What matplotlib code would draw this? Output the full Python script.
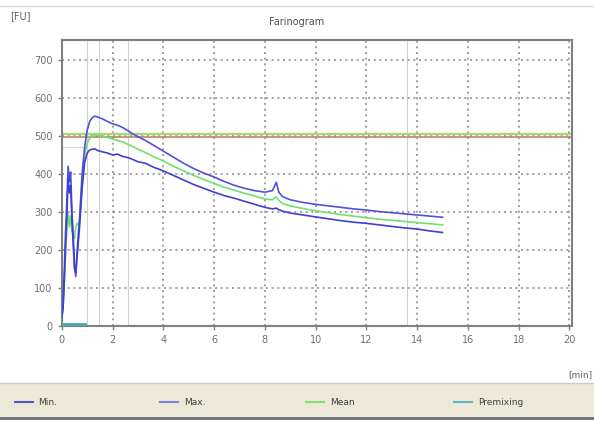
import matplotlib.pyplot as plt
from matplotlib.patches import Rectangle
from matplotlib.lines import Line2D

# time axis [min] and curves [FU]
t_start = [0.0, 0.05, 0.1, 0.15, 0.2, 0.25, 0.3, 0.35, 0.4, 0.45, 0.5, 0.55,
           0.6, 0.65, 0.7, 0.8, 0.9, 1.0, 1.1, 1.2, 1.3, 1.4]
max_start = [30, 60, 150, 250, 330, 420, 380, 405, 300, 240, 160, 130,
             190, 240, 280, 400, 470, 515, 538, 548, 552, 550]
min_start = [20, 45, 120, 210, 290, 390, 350, 370, 280, 215, 150, 140,
             180, 220, 260, 360, 430, 455, 463, 465, 466, 462]
mean_start = [25, 50, 110, 200, 250, 300, 260, 290, 250, 240, 230, 260,
              270, 265, 280, 380, 450, 480, 494, 500, 503, 502]

t_tail = [1.6, 1.8, 2.0, 2.2, 2.4, 2.6, 2.8, 3.0, 3.3, 3.6, 4.0, 4.4, 4.8,
          5.2, 5.6, 6.0, 6.4, 6.8, 7.2, 7.6, 8.0, 8.3, 8.45, 8.55, 8.7,
          9.0, 9.5, 10.0, 10.5, 11.0, 11.5, 12.0, 12.5, 13.0, 13.5, 14.0,
          14.5, 15.0]
max_tail = [545, 538, 532, 528, 522, 514, 505, 498, 488, 476, 460, 444, 428,
            414, 402, 392, 380, 370, 362, 356, 352, 356, 378, 352, 340,
            332, 325, 320, 316, 312, 308, 305, 301, 298, 295, 292,
            289, 286]
min_tail = [458, 455, 450, 452, 446, 443, 438, 432, 428, 418, 408, 396, 384,
            372, 362, 352, 343, 336, 328, 320, 312, 308, 310, 306, 302,
            297, 292, 287, 282, 277, 273, 270, 266, 262, 258, 255,
            250, 246]
mean_tail = [500, 496, 492, 488, 484, 478, 472, 465, 456, 446, 434, 420, 408,
             396, 385, 375, 365, 357, 349, 342, 334, 332, 340, 330, 322,
             316, 309, 303, 298, 293, 289, 285, 281, 278, 275, 272,
             269, 266]

t = t_start + t_tail
max_fu = max_start + max_tail
min_fu = min_start + min_tail
mean_fu = mean_start + mean_tail

premix_t = [0.0, 0.9]
premix_fu = [5, 5]

x_ticks = [0, 2, 4, 6, 8, 10, 12, 14, 16, 18, 20]
y_ticks = [0, 100, 200, 300, 400, 500, 600, 700]
marker_t = [1.0, 1.45, 2.6, 13.6]

fig = plt.figure(figsize=(5.94, 4.21), dpi=100)
fig.patch.set_facecolor("white")

# window decorations: thin top line, beige legend band at the bottom
fig.add_artist(Line2D([0.0, 1.0], [0.985, 0.985], color="#d8d8d8", lw=1))
fig.add_artist(Rectangle((0, 0.008), 1, 0.082, facecolor="#ece9d8",
                         edgecolor="none", transform=fig.transFigure))
fig.add_artist(Line2D([0.0, 1.0], [0.09, 0.09], color="#d0ccbc", lw=1))
fig.add_artist(Line2D([0.0, 1.0], [0.006, 0.006], color="#707070", lw=2))

ax = fig.add_axes([0.104, 0.2257, 0.859, 0.679])
ax.set_xlim(0, 20.1)
ax.set_ylim(0, 752)

ax.set_xticks(x_ticks)
ax.set_yticks(y_ticks)
ax.grid(True, color="#909090", linestyle=(0, (1.2, 2.2)), linewidth=1.2)
ax.tick_params(colors="#808080", labelcolor="#707070", labelsize=7,
               length=3, width=1)
for s in ax.spines.values():
    s.set_color("#808080")
    s.set_linewidth(1.5)

for xm in marker_t:
    ax.axvline(xm, color="#d0d0d0", lw=0.8, zorder=1)
ax.plot([0, 1.0], [470, 470], color="#d8d8d8", lw=0.8, zorder=1)

ax.axhline(504, color="#a8d870", lw=1.6, zorder=2)
ax.axhline(498, color="#c08868", lw=1.2, zorder=2)

ax.plot(t, mean_fu, color="#70e070", lw=1.2, zorder=3)
ax.plot(t, max_fu, color="#5050e0", lw=1.2, zorder=4)
ax.plot(t, min_fu, color="#4040d0", lw=1.2, zorder=4)
ax.plot(premix_t, premix_fu, color="#4aa8b8", lw=2, zorder=5)

fig.text(0.017, 0.955, "[FU]", fontsize=7, color="#606060")
fig.text(0.5, 0.94, "Farinogram", fontsize=7, color="#505050", ha="center")
fig.text(0.998, 0.105, "[min]", fontsize=6.5, color="#606060", ha="right")

# legend entries spread along the bottom band
legend_items = [("Min.", "#5050d0", 0.025), ("Max.", "#8080e8", 0.27),
                ("Mean", "#80e070", 0.515), ("Premixing", "#60b8c0", 0.765)]
for label, col, xpos in legend_items:
    fig.add_artist(Line2D([xpos, xpos + 0.03], [0.045, 0.045], color=col,
                          lw=1.5))
    fig.text(xpos + 0.04, 0.045, label, fontsize=6.5, color="#404040",
             va="center")

fig.savefig("out.png", dpi=100)
